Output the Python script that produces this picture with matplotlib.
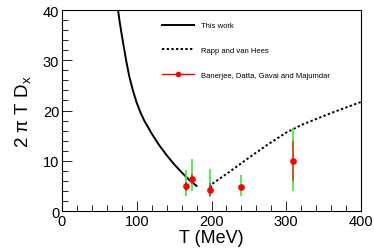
import matplotlib
matplotlib.use('Agg')
import matplotlib.pyplot as plt
import numpy as np
from matplotlib.ticker import MultipleLocator

plt.rcParams['font.family'] = ['Liberation Sans', 'DejaVu Sans']
plt.rcParams['mathtext.fontset'] = 'custom'
plt.rcParams['mathtext.rm'] = 'Liberation Sans'
plt.rcParams['mathtext.it'] = 'Liberation Sans'

# "This work" curve
this_T = [75, 77, 80, 83, 86, 90, 95, 100, 105, 110, 120, 130, 140, 150, 160, 170, 180]
this_D = [40.0, 37.8, 35.0, 32.4, 29.8, 26.8, 23.9, 21.5, 19.6, 18.0, 15.4, 13.1, 11.1, 9.3, 7.7, 6.2, 5.0]

# Rapp and van Hees
rapp_T = [199, 200, 225, 250, 275, 300, 320, 340, 360, 380, 400]
rapp_D = [4.6, 5.3, 7.9, 10.6, 13.2, 15.6, 17.1, 18.3, 19.5, 20.6, 21.7]

# Banerjee, Datta, Gavai and Majumdar
lat_T = [165.5, 173.5, 198.0, 239.5, 309.5]
lat_D = [4.9, 6.4, 4.2, 4.7, 10.0]
lat_stat_lo = [4.0, 5.4, 3.0, 4.4, 6.0]
lat_stat_hi = [5.8, 7.4, 5.5, 5.0, 14.0]
lat_sys_lo = [3.0, 4.0, 2.7, 3.0, 3.9]
lat_sys_hi = [8.2, 10.3, 8.4, 7.2, 16.6]

fig = plt.figure(figsize=(3.74, 2.53), dpi=100)
ax = fig.add_axes([62/374, 1 - 212/253, 299/374, 201/253])

ax.plot(this_T, this_D, color='black', lw=1.4, label='This work')
ax.plot(rapp_T, rapp_D, color='black', lw=1.4, ls=(0, (1.2, 1.2)), label='Rapp and van Hees')

T = np.array(lat_T)
D = np.array(lat_D)
ax.vlines(T, lat_sys_lo, lat_sys_hi, color='#33ee33', lw=1.2, zorder=3)
ax.vlines(T, lat_stat_lo, lat_stat_hi, color='red', alpha=0.7, lw=1.2, zorder=4)
ax.plot(T, D, 'o', color='red', ms=3.8, zorder=5)
ax.plot([], [], '-o', color='red', ms=3, lw=1, label='Banerjee, Datta, Gavai and Majumdar')

ax.set_xlim(0, 400)
ax.set_ylim(0, 40)
ax.xaxis.set_major_locator(MultipleLocator(100))
ax.xaxis.set_minor_locator(MultipleLocator(20))
ax.yaxis.set_major_locator(MultipleLocator(10))
ax.yaxis.set_minor_locator(MultipleLocator(2))
ax.tick_params(which='both', direction='in', top=False, right=False, labelsize=10.5, pad=2)
ax.tick_params(which='major', length=7, width=0.6)
ax.tick_params(which='minor', length=4, width=0.6)
for s in ax.spines.values():
    s.set_linewidth(0.8)

ax.set_xlabel('T (MeV)', fontsize=13, labelpad=1)
ax.set_ylabel(r'2 $\pi$ T D$_\mathrm{x}$', fontsize=13.5, labelpad=7)

leg = ax.legend(loc='upper left', bbox_to_anchor=(0.31, 0.975), frameon=False,
                fontsize=5.5, handlelength=4.2, handletextpad=1.0, labelspacing=2.3)

fig.savefig('out.png', dpi=100)
